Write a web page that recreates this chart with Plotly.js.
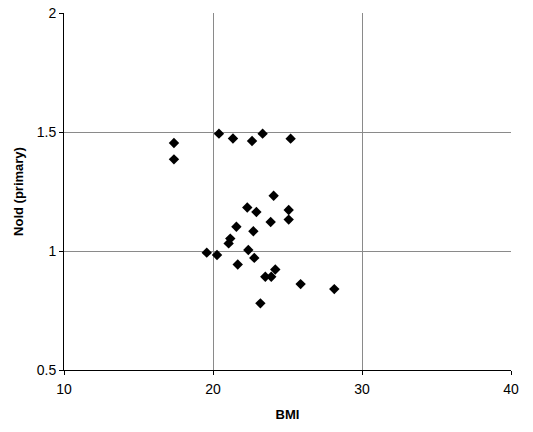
<!DOCTYPE html>
<html><head><meta charset="utf-8">
<script src="https://cdn.plot.ly/plotly-3.0.1.min.js"></script>
<style>html,body{margin:0;padding:0;background:#fff}#plot{width:533px;height:432px}</style>
</head><body><div id="plot"></div>
<script>
const bmi = [17.38,17.38,20.40,21.34,22.62,23.33,25.21,24.07,22.30,22.91,25.08,25.08,23.87,21.57,22.71,21.16,21.05,22.37,19.58,20.27,22.77,21.66,24.18,23.51,23.91,25.88,28.14,23.18];
const nold = [1.454,1.385,1.493,1.473,1.462,1.493,1.472,1.232,1.183,1.164,1.172,1.132,1.122,1.102,1.083,1.052,1.032,1.004,0.993,0.983,0.971,0.943,0.922,0.892,0.892,0.861,0.840,0.780];
const xTicks = [10,20,30,40];
const yTicks = [0.5,1,1.5,2];
const yTickText = ['0.5','1','1.5','2'];

Plotly.newPlot('plot', [{
  x: bmi, y: nold, type: 'scatter', mode: 'markers',
  marker: {symbol: 'diamond', size: 8, color: '#000'}, hoverinfo: 'none'
}], {
  width: 533, height: 432,
  margin: {l: 64, r: 22, t: 13, b: 62},
  paper_bgcolor: '#fff', plot_bgcolor: '#fff',
  showlegend: false,
  font: {family: 'Liberation Sans, Arial, sans-serif', color: '#000'},
  xaxis: {
    range: [10, 40], tickvals: xTicks, ticktext: xTicks.map(String),
    showgrid: true, gridcolor: '#8a8a8a', gridwidth: 1, zeroline: false,
    showline: true, linecolor: '#000', linewidth: 1,
    ticks: 'outside', ticklen: 4, tickcolor: '#000',
    tickfont: {size: 14}, ticklabelstandoff: 2,
    title: {text: '<b>BMI</b>', font: {size: 13}, standoff: 14}
  },
  yaxis: {
    range: [0.5, 2], tickvals: yTicks, ticktext: yTickText,
    showgrid: true, gridcolor: '#8a8a8a', gridwidth: 1, zeroline: false,
    showline: true, linecolor: '#000', linewidth: 1,
    ticks: 'outside', ticklen: 4, tickcolor: '#000',
    tickfont: {size: 14},
    title: {text: '<b>Nold (primary)</b>', font: {size: 13}, standoff: 10}
  }
}, {staticPlot: true});
</script></body></html>
